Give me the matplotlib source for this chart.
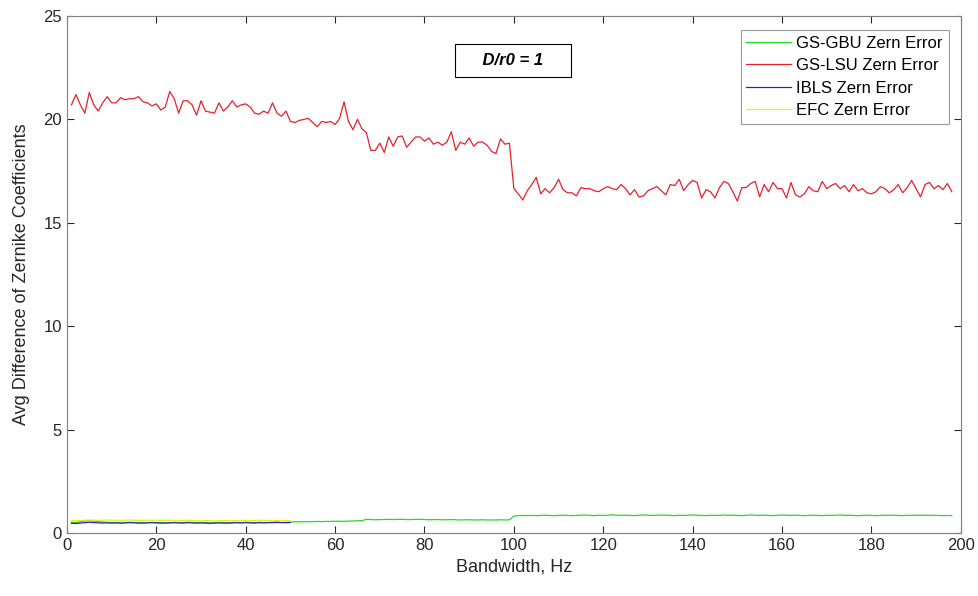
import matplotlib
matplotlib.use('Agg')
import matplotlib.pyplot as plt

plt.rcParams['font.family'] = ['Liberation Sans', 'DejaVu Sans']

# bandwidth in Hz (1..198)
bandwidth = list(range(1, 199))

gs_lsu = [
    20.7, 21.2, 20.7, 20.3, 21.3, 20.7, 20.4, 20.8, 21.1, 20.8,
    20.8, 21.05, 20.95, 21.0, 21.0, 21.1, 20.85, 20.8, 20.65, 20.75,
    20.45, 20.6, 21.35, 21.0, 20.3, 20.9, 20.9, 20.7, 20.2, 20.9,
    20.4, 20.35, 20.3, 20.8, 20.4, 20.6, 20.9, 20.6, 20.7, 20.75,
    20.6, 20.3, 20.25, 20.4, 20.3, 20.8, 20.3, 20.15, 20.4, 19.9,
    19.85, 19.95, 20.0, 20.05, 19.85, 19.65, 19.9, 19.85, 19.9, 19.75,
    20.05, 20.85, 19.9, 19.5, 20.0, 19.55, 19.35, 18.5, 18.5, 18.85,
    18.4, 19.15, 18.7, 19.15, 19.2, 18.65, 18.9, 19.15, 19.15, 18.95,
    19.1, 18.8, 18.9, 18.75, 18.9, 19.4, 18.5, 18.9, 18.8, 19.1,
    18.7, 18.9, 18.9, 18.75, 18.45, 18.35, 19.05, 18.8, 18.85, 16.65,
    16.4, 16.1, 16.55, 16.85, 17.2, 16.4, 16.65, 16.45, 16.7, 17.1,
    16.6, 16.45, 16.45, 16.3, 16.7, 16.65, 16.65, 16.55, 16.5, 16.65,
    16.75, 16.65, 16.6, 16.85, 16.65, 16.35, 16.6, 16.25, 16.3, 16.55,
    16.65, 16.75, 16.55, 16.35, 16.85, 16.8, 17.1, 16.55, 16.85, 17.05,
    16.95, 16.2, 16.6, 16.5, 16.2, 16.7, 17.0, 16.9, 16.5, 16.05,
    16.7, 16.7, 16.9, 17.0, 16.25, 16.85, 16.5, 16.95, 16.65, 16.65,
    16.2, 16.95, 16.35, 16.25, 16.4, 16.75, 16.55, 16.5, 17.0, 16.65,
    16.8, 16.9, 16.65, 16.8, 16.5, 16.85, 16.55, 16.65, 16.45, 16.4,
    16.5, 16.75, 16.65, 16.45, 16.6, 16.85, 16.45, 16.7, 17.05, 16.65,
    16.25, 16.85, 16.95, 16.65, 16.8, 16.6, 16.9, 16.5,
]

gs_gbu = [
    0.52, 0.5, 0.55, 0.58, 0.6, 0.57, 0.55, 0.53, 0.52, 0.5,
    0.51, 0.5, 0.5, 0.52, 0.51, 0.5, 0.49, 0.5, 0.51, 0.5,
    0.5, 0.49, 0.5, 0.51, 0.5, 0.5, 0.52, 0.51, 0.5, 0.5,
    0.49, 0.48, 0.5, 0.51, 0.5, 0.49, 0.5, 0.51, 0.5, 0.52,
    0.51, 0.5, 0.52, 0.5, 0.51, 0.52, 0.53, 0.51, 0.52, 0.53,
    0.54, 0.54, 0.55, 0.54, 0.55, 0.56, 0.55, 0.56, 0.56, 0.57,
    0.57, 0.56, 0.58, 0.58, 0.59, 0.6, 0.66, 0.65, 0.64, 0.65,
    0.65, 0.66, 0.65, 0.66, 0.66, 0.65, 0.65, 0.66, 0.66, 0.65,
    0.64, 0.65, 0.65, 0.64, 0.64, 0.65, 0.64, 0.63, 0.64, 0.64,
    0.63, 0.63, 0.64, 0.63, 0.63, 0.63, 0.64, 0.63, 0.64, 0.82,
    0.84, 0.85, 0.84, 0.85, 0.84, 0.85, 0.86, 0.85, 0.84, 0.85,
    0.86, 0.85, 0.84, 0.85, 0.86, 0.87, 0.85, 0.84, 0.86, 0.85,
    0.86, 0.88, 0.86, 0.85, 0.86, 0.85, 0.84, 0.86, 0.87, 0.86,
    0.85, 0.86, 0.87, 0.86, 0.85, 0.84, 0.86, 0.85, 0.86, 0.87,
    0.86, 0.85, 0.84, 0.86, 0.85, 0.86, 0.87, 0.85, 0.86, 0.85,
    0.84, 0.86, 0.87, 0.86, 0.85, 0.86, 0.85, 0.84, 0.86, 0.87,
    0.86, 0.85, 0.86, 0.85, 0.84, 0.85, 0.86, 0.85, 0.84, 0.86,
    0.85, 0.86, 0.87, 0.85, 0.86, 0.85, 0.84, 0.85, 0.86, 0.85,
    0.84, 0.85, 0.86, 0.85, 0.86, 0.85, 0.84, 0.86, 0.85, 0.86,
    0.85, 0.86, 0.85, 0.86, 0.85, 0.84, 0.85, 0.84,
]

ibls = [
    0.47, 0.46, 0.48, 0.5, 0.52, 0.5, 0.49, 0.48, 0.49, 0.48,
    0.49, 0.48, 0.49, 0.5, 0.49, 0.48, 0.48, 0.49, 0.5, 0.49,
    0.48, 0.48, 0.49, 0.5, 0.49, 0.48, 0.5, 0.49, 0.48, 0.49,
    0.48, 0.47, 0.48, 0.49, 0.48, 0.48, 0.49, 0.5, 0.49, 0.5,
    0.49, 0.48, 0.5, 0.49, 0.5, 0.5, 0.51, 0.5, 0.5, 0.51,
]

efc = [
    0.62, 0.6, 0.6, 0.62, 0.63, 0.62, 0.61, 0.62, 0.63, 0.62,
    0.62, 0.61, 0.62, 0.63, 0.62, 0.61, 0.62, 0.62, 0.61, 0.62,
    0.6, 0.61, 0.62, 0.61, 0.6, 0.61, 0.62, 0.6, 0.59, 0.6,
    0.6, 0.59, 0.58, 0.6, 0.6, 0.61, 0.6, 0.6, 0.61, 0.61,
    0.6, 0.61, 0.62, 0.61, 0.6, 0.61, 0.6, 0.61, 0.6, 0.58,
]

fig = plt.figure(figsize=(9.79, 5.96), dpi=100)
ax = fig.add_axes([0.0684, 0.1057, 0.913, 0.8675])

ax.plot(bandwidth, gs_gbu, color='#22dd22', lw=0.9, label='GS-GBU Zern Error')
ax.plot(bandwidth, gs_lsu, color='#e8202e', lw=0.9, label='GS-LSU Zern Error')
ax.plot(bandwidth[:len(ibls)], ibls, color='#2222dd', lw=0.9, label='IBLS Zern Error')
ax.plot(bandwidth[:len(efc)], efc, color='#f0f000', lw=0.9, label='EFC Zern Error')

ax.set_xlim(0, 200)
ax.set_ylim(0, 25)
ax.set_xticks(range(0, 201, 20))
ax.set_yticks(range(0, 26, 5))
ax.tick_params(direction='in', top=True, right=True, length=5, width=0.8,
               colors='#262626', labelsize=12, labelcolor='#262626')
for sp in ax.spines.values():
    sp.set_color('#808080')
    sp.set_linewidth(0.8)

ax.set_xlabel('Bandwidth, Hz', fontsize=13, color='#262626')
ax.set_ylabel('Avg Difference of Zernike Coefficients', fontsize=13,
              color='#262626', labelpad=10)

ax.text(99.8, 22.85, '    D/r0 = 1    ', fontsize=12, fontweight='bold', fontstyle='italic',
        ha='center', va='center',
        bbox=dict(boxstyle='square,pad=0.55', fc='white', ec='black', lw=0.8))

leg = ax.legend(loc='upper right', fontsize=12, handlelength=2.7, borderpad=0.35,
                labelspacing=0.45, handletextpad=0.3, fancybox=False,
                borderaxespad=0, bbox_to_anchor=(0.9866, 0.973))
leg.get_frame().set_edgecolor('#808080')
leg.get_frame().set_linewidth(0.8)

plt.savefig('out.png', dpi=100)
